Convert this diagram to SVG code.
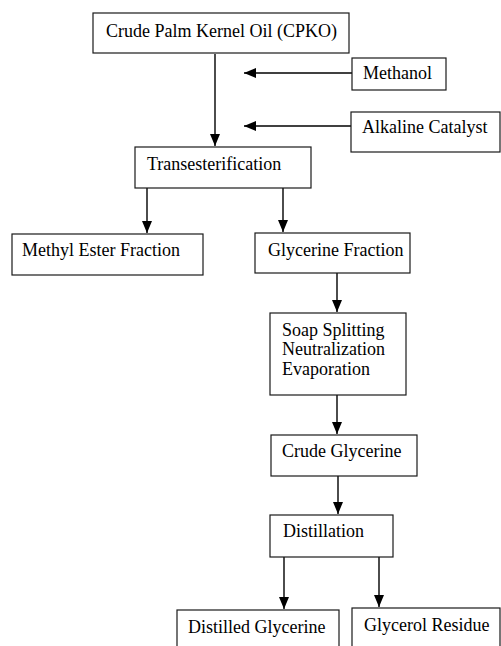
<svg xmlns="http://www.w3.org/2000/svg" width="501" height="646" viewBox="0 0 501 646">
<style>
.box{fill:#fff;stroke:#1a1a1a;stroke-width:1.2}
.t{font-family:"Liberation Serif","Times New Roman",serif;font-size:18px;fill:#000}
.c{stroke:#000;stroke-width:1.4;fill:none}
</style>
<defs>
<marker id="ah" markerUnits="userSpaceOnUse" markerWidth="13" markerHeight="11" refX="12" refY="5" orient="auto">
<path d="M0,0 L12,5 L0,10 z" fill="#000"/>
</marker>
</defs>
<rect width="501" height="646" fill="#fff"/>
<g id="connectors">
<path class="c" d="M215,54 V146" marker-end="url(#ah)"/>
<path class="c" d="M352,73 H244" marker-end="url(#ah)"/>
<path class="c" d="M351,126 H244" marker-end="url(#ah)"/>
<path class="c" d="M147,188 V233" marker-end="url(#ah)"/>
<path class="c" d="M283,188 V232" marker-end="url(#ah)"/>
<path class="c" d="M337,273 V312" marker-end="url(#ah)"/>
<path class="c" d="M337,395 V434" marker-end="url(#ah)"/>
<path class="c" d="M338,476 V514" marker-end="url(#ah)"/>
<path class="c" d="M284,557 V609" marker-end="url(#ah)"/>
<path class="c" d="M379,557 V607" marker-end="url(#ah)"/>
</g>
<g id="cpko"><rect class="box" x="93" y="13" width="256" height="40"/><text class="t" x="106" y="37">Crude Palm Kernel Oil (CPKO)</text></g>
<g id="methanol"><rect class="box" x="352" y="58" width="94" height="32"/><text class="t" x="363" y="79">Methanol</text></g>
<g id="catalyst"><rect class="box" x="351" y="112" width="149" height="40"/><text class="t" x="362" y="133">Alkaline Catalyst</text></g>
<g id="trans"><rect class="box" x="135" y="147" width="176" height="41"/><text class="t" x="147" y="170">Transesterification</text></g>
<g id="methylester"><rect class="box" x="12" y="234" width="191" height="41"/><text class="t" x="22" y="256">Methyl Ester Fraction</text></g>
<g id="glycerinefraction"><rect class="box" x="255" y="233" width="155" height="40"/><text class="t" x="268" y="256">Glycerine Fraction</text></g>
<g id="soap"><rect class="box" x="270" y="313" width="136" height="82"/><text class="t" x="282" y="336">Soap Splitting</text><text class="t" x="282" y="355">Neutralization</text><text class="t" x="282" y="375">Evaporation</text></g>
<g id="crudeglycerine"><rect class="box" x="271" y="435" width="146" height="41"/><text class="t" x="282" y="457">Crude Glycerine</text></g>
<g id="distillation"><rect class="box" x="270" y="515" width="123" height="42"/><text class="t" x="283" y="537">Distillation</text></g>
<g id="distilled"><rect class="box" x="177" y="610" width="162" height="60"/><text class="t" x="188" y="633">Distilled Glycerine</text></g>
<g id="residue"><rect class="box" x="352" y="608" width="148" height="60"/><text class="t" x="364" y="631">Glycerol Residue</text></g>
</svg>
